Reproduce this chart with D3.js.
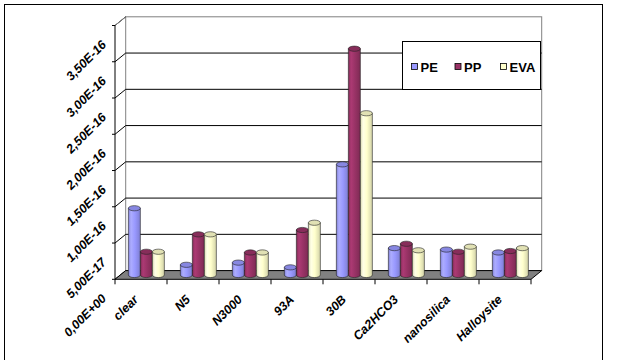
<!DOCTYPE html>
<html>
<head>
<meta charset="utf-8">
<script src="https://cdn.jsdelivr.net/npm/d3@7"></script>
<style>
  html, body { margin: 0; padding: 0; background: #fff; }
  svg { display: block; }
  text { font-family: "Liberation Sans", Arial, sans-serif; font-weight: bold; }
</style>
</head>
<body>
<svg id="chart" width="620" height="360"></svg>
<script>
// Permeability-style values per filler, for three polymers
const categories = ["clear", "N5", "N3000", "93A", "30B", "Ca2HCO3", "nanosilica", "Halloysite"];
const seriesNames = ["PE", "PP", "EVA"];
const peValues  = [9.2e-17, 1.4e-17, 1.7e-17, 1.05e-17, 1.525e-16, 3.7e-17, 3.5e-17, 3.1e-17];
const ppValues  = [3.2e-17, 5.6e-17, 3.1e-17, 6.2e-17, 3.12e-16, 4.3e-17, 3.2e-17, 3.3e-17];
const evaValues = [3.2e-17, 5.6e-17, 3.1e-17, 7.2e-17, 2.23e-16, 3.4e-17, 3.9e-17, 3.7e-17];
const tickValues = [0, 5e-17, 1e-16, 1.5e-16, 2e-16, 2.5e-16, 3e-16, 3.5e-16];
const tickLabels = ["0,00E+00", "5,00E-17", "1,00E-16", "1,50E-16", "2,00E-16", "2,50E-16", "3,00E-16", "3,50E-16"];
const seriesColors = ["#9999FF", "#993366", "#FFFFCC"];

const svg = d3.select("#chart");

// Pseudo-3D frame: front plane, plus a depth offset towards the back wall
const DX = 10.7, DY = -8.7;
const x = d3.scaleBand().domain(categories).range([115, 531]).paddingInner(0).paddingOuter(0);
const y = d3.scaleLinear().domain([0, 3.5e-16]).range([279.3, 25.5]);
const inner = d3.scaleBand().domain(seriesNames).range([0, 36]);
const groupOffset = (x.bandwidth() - 36) / 2;

const x0 = x.range()[0], x1 = x.range()[1];

// outer chart border
svg.append("rect").attr("x", 4.5).attr("y", 4.5).attr("width", 598).attr("height", 370)
  .attr("fill", "none").attr("stroke", "#000").attr("stroke-width", 1);

const defs = svg.append("defs");
seriesColors.forEach((c, i) => {
  const base = d3.color(c);
  const g = defs.append("linearGradient").attr("id", "cyl" + i)
    .attr("x1", "0%").attr("x2", "100%").attr("y1", "0%").attr("y2", "0%");
  g.append("stop").attr("offset", "0%").attr("stop-color", base.darker(0.5));
  g.append("stop").attr("offset", "22%").attr("stop-color", base.brighter(0.35));
  g.append("stop").attr("offset", "55%").attr("stop-color", base);
  g.append("stop").attr("offset", "100%").attr("stop-color", base.darker(0.55));
});

// back wall
svg.append("rect")
  .attr("x", x0 + DX).attr("y", y(3.5e-16) + DY)
  .attr("width", x1 - x0).attr("height", y(0) - y(3.5e-16))
  .attr("fill", "#fff").attr("stroke", "#808080").attr("stroke-width", 1);

// horizontal gridlines on the back wall
svg.append("g").selectAll("line").data(tickValues.slice(1, -1)).join("line")
  .attr("x1", x0 + DX).attr("x2", x1 + DX)
  .attr("y1", d => y(d) + DY).attr("y2", d => y(d) + DY)
  .attr("stroke", "#000").attr("stroke-width", 1);

// side wall: gridlines run diagonally from front axis to back wall
svg.append("g").selectAll("line").data(tickValues).join("line")
  .attr("x1", x0).attr("x2", x0 + DX)
  .attr("y1", d => y(d)).attr("y2", d => y(d) + DY)
  .attr("stroke", "#000").attr("stroke-width", 1);
svg.append("line").attr("x1", x0).attr("x2", x0 + DX)
  .attr("y1", y(3.5e-16)).attr("y2", y(3.5e-16) + DY)
  .attr("stroke", "#808080");

// floor
svg.append("path")
  .attr("d", `M${x0},${y(0)} L${x1},${y(0)} L${x1 + DX},${y(0) + DY} L${x0 + DX},${y(0) + DY} Z`)
  .attr("fill", "#808080").attr("stroke", "#000").attr("stroke-width", 1);

// value axis (front edge)
svg.append("line").attr("x1", x0).attr("x2", x0).attr("y1", y(3.5e-16)).attr("y2", y(0))
  .attr("stroke", "#000");
svg.append("g").selectAll("line").data(tickValues).join("line")
  .attr("x1", x0 - 3).attr("x2", x0).attr("y1", d => y(d)).attr("y2", d => y(d))
  .attr("stroke", "#000");
svg.append("g").selectAll("text").data(tickValues).join("text")
  .attr("transform", (d) => `translate(${x0 - 8},${y(d) + 20}) rotate(-45)`)
  .attr("text-anchor", "end")
  .attr("font-size", 12.5).attr("font-style", "italic")
  .text((d, i) => tickLabels[i]);

// category axis ticks
const boundaries = categories.map(c => x(c)).concat([x1]);
svg.append("g").selectAll("line").data(boundaries).join("line")
  .attr("x1", d => d).attr("x2", d => d).attr("y1", y(0)).attr("y2", y(0) + 5)
  .attr("stroke", "#000");
svg.append("g").selectAll("text").data(categories).join("text")
  .attr("transform", d => `translate(${x(d) + x.bandwidth() / 2 - 2},${y(0) + 21}) rotate(-45)`)
  .attr("text-anchor", "end")
  .attr("font-size", 12.5).attr("font-style", "italic")
  .text(d => d);

// cylinders at mid depth
const seriesValues = [peValues, ppValues, evaValues];
const RY = 2.6;
const bars = svg.append("g");
categories.forEach((cat, ci) => {
  seriesNames.forEach((s, si) => {
    const v = seriesValues[si][ci];
    const left = x(cat) + groupOffset + inner(s) + DX / 2;
    const w = inner.bandwidth();
    const rx = w / 2;
    const cx = left + rx;
    const yb = y(0) + DY / 2;
    const yt = y(v) + DY / 2;
    const base = d3.color(seriesColors[si]);
    const g = bars.append("g");
    g.append("path")
      .attr("d", `M${left},${yt} L${left},${yb} A${rx},${RY} 0 0 0 ${left + w},${yb} L${left + w},${yt} Z`)
      .attr("fill", `url(#cyl${si})`).attr("stroke", "#222").attr("stroke-width", 0.6);
    g.append("ellipse").attr("cx", cx).attr("cy", yt).attr("rx", rx).attr("ry", RY)
      .attr("fill", base.darker(0.35)).attr("stroke", "#222").attr("stroke-width", 0.6);
  });
});

// legend
const lg = svg.append("g");
lg.append("rect").attr("x", 402.5).attr("y", 41.5).attr("width", 138).attr("height", 48)
  .attr("fill", "#fff").attr("stroke", "#000");
const legendX = [411, 454.5, 500];
seriesNames.forEach((s, i) => {
  lg.append("rect").attr("x", legendX[i] + 0.5).attr("y", 63.5).attr("width", 6).attr("height", 6)
    .attr("fill", seriesColors[i]).attr("stroke", "#000").attr("stroke-width", 0.8);
  lg.append("text").attr("x", legendX[i] + 9.5).attr("y", 71.5)
    .attr("font-size", 13).text(s);
});
</script>
</body>
</html>
